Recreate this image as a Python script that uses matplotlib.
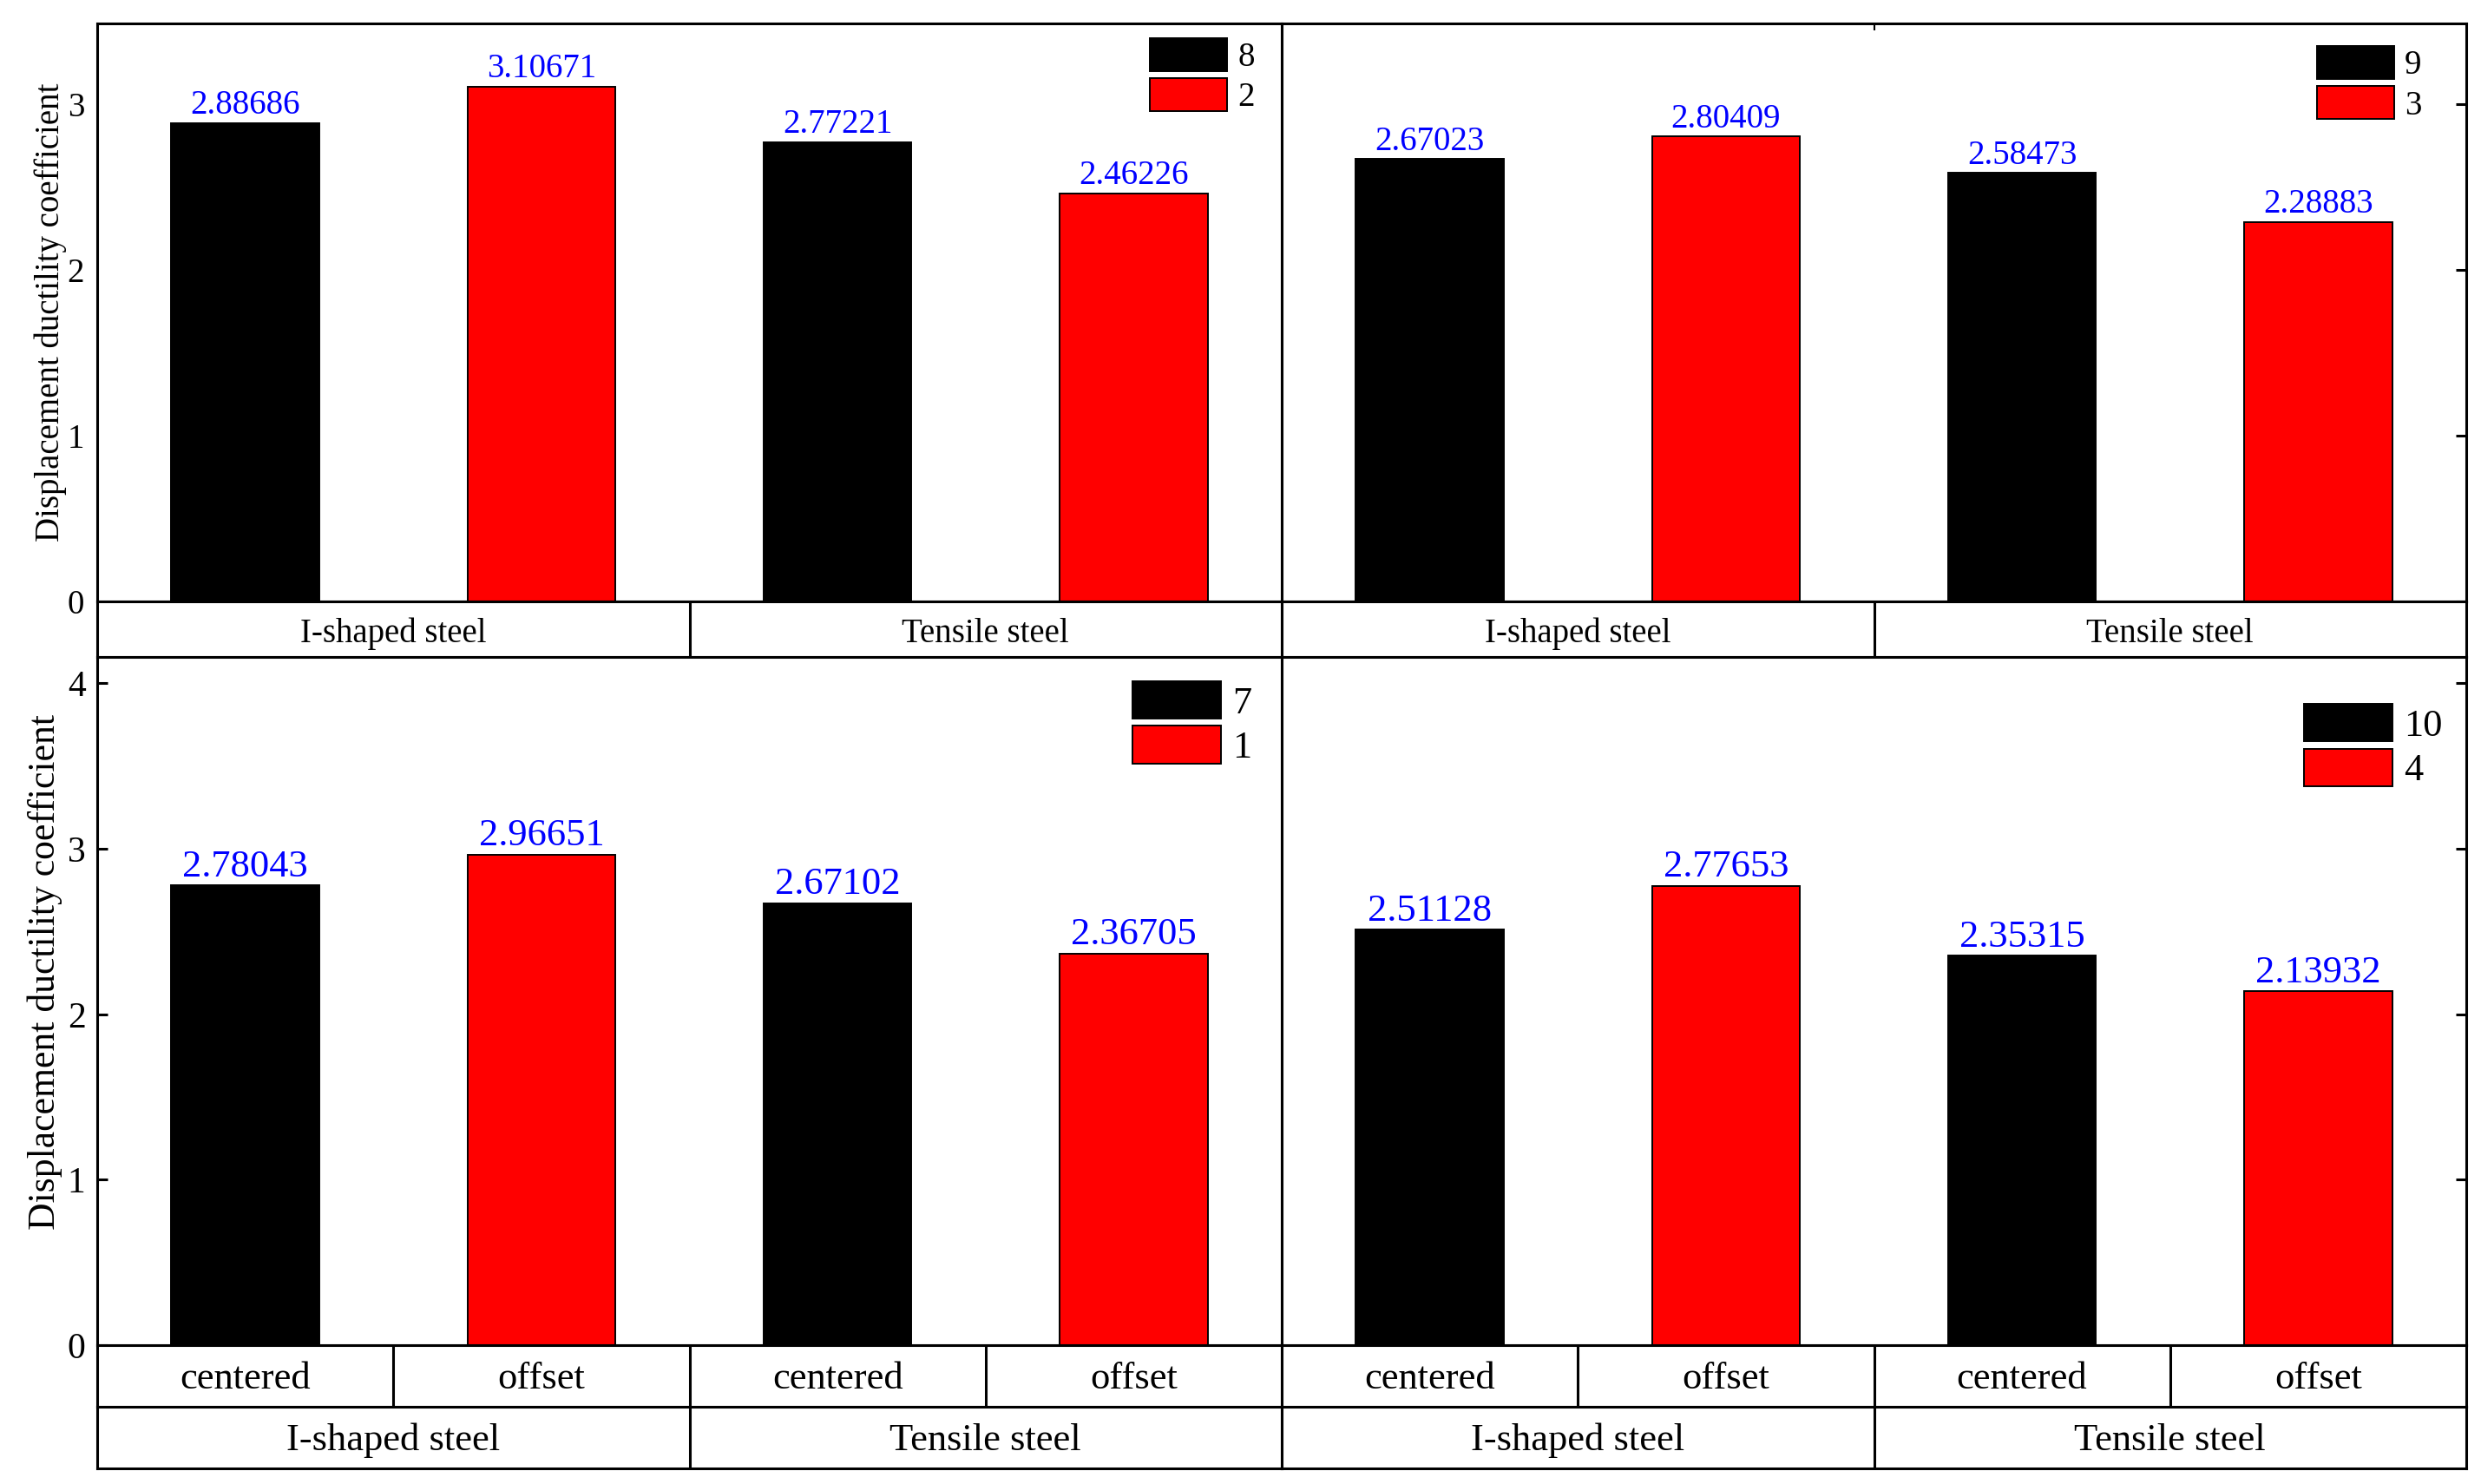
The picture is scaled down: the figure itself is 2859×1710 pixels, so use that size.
import numpy as np
import matplotlib
matplotlib.use("Agg")
import matplotlib.pyplot as plt

plt.rcParams['font.family'] = ['Liberation Serif', 'DejaVu Serif']

# Data
groups = ["I-shaped steel", "Tensile steel"]
placements = ["centered", "offset"]

# each list: [I-shaped steel, Tensile steel]
tl_centered = [2.88686, 2.77221]
tl_offset = [3.10671, 2.46226]
tl_names = ["8", "2"]

tr_centered = [2.67023, 2.58473]
tr_offset = [2.80409, 2.28883]
tr_names = ["9", "3"]

bl_centered = [2.78043, 2.67102]
bl_offset = [2.96651, 2.36705]
bl_names = ["7", "1"]

br_centered = [2.51128, 2.35315]
br_offset = [2.77653, 2.13932]
br_names = ["10", "4"]

ylabel = "Displacement ductility coefficient"

x_centered = np.array([0, 2])
x_offset = np.array([1, 3])

W, H = 2859, 1710
fig = plt.figure(figsize=(W / 100, H / 100), dpi=100)
LW = 2.2


def px_axes(x0, y0, x1, y1):
    return fig.add_axes([x0 / W, 1 - y1 / H, (x1 - x0) / W, (y1 - y0) / H])


def draw_panel(ax, centered, offset, names, fs, ymax, leg_xy):
    b1 = ax.bar(x_centered, centered, 0.5, color='black', edgecolor='black',
                linewidth=1.4, label=names[0])
    b2 = ax.bar(x_offset, offset, 0.5, color='red', edgecolor='black',
                linewidth=1.4, label=names[1])
    for b, v in ((b1, centered), (b2, offset)):
        ax.bar_label(b, labels=[f"{x:.5f}" for x in v], color='blue',
                     fontsize=fs, padding=1)
    ax.set_xlim(-0.5, 3.5)
    ax.set_ylim(0, ymax)
    ax.set_xticks([])
    for s in ax.spines.values():
        s.set_linewidth(LW)
    ax.legend(loc='upper right', bbox_to_anchor=leg_xy, frameon=False,
              fontsize=fs, handlelength=2.29, handleheight=1.13,
              labelspacing=0.13, handletextpad=0.3, borderpad=0,
              borderaxespad=0)


def band(ax, labels, xs, bounds, fs, ty):
    ax.set_xlim(-0.5, 3.5)
    ax.set_ylim(0, 1)
    ax.set_xticks([])
    ax.set_yticks([])
    for s in ax.spines.values():
        s.set_linewidth(LW)
    for b in bounds:
        ax.axvline(b, color='black', lw=LW)
    for x, t in zip(xs, labels):
        ax.text(x, ty, t, ha='center', va='center', fontsize=fs)


# top row
ax_tl = px_axes(112, 27, 1477, 693)
ax_tr = px_axes(1477, 27, 2842, 693)
draw_panel(ax_tl, tl_centered, tl_offset, tl_names, 28, 3.487, (0.977, 0.975))
draw_panel(ax_tr, tr_centered, tr_offset, tr_names, 28, 3.487, (0.962, 0.961))

ax_tl.set_yticks([0, 1, 2, 3])
ax_tl.tick_params(axis='y', length=0, pad=10.8, labelsize=28)
ax_tl.set_ylabel(ylabel, fontsize=28)
ax_tl.yaxis.set_label_coords((77 - 112) / 1365, 0.5)

ax_tr.set_yticks([0, 1, 2, 3])
ax_tr.yaxis.tick_right()
ax_tr.tick_params(axis='y', direction='in', length=8.6, width=LW, labelright=False)
ax_tr.set_xticks([1.5])
ax_tr.tick_params(axis='x', top=True, bottom=False, direction='in', length=6,
                  width=1.5, labeltop=False, labelbottom=False)

for x0, x1 in ((112, 1477), (1477, 2842)):
    band(px_axes(x0, 693, x1, 757), groups, [0.5, 2.5], [1.5], 28, 0.42)

# bottom row
ax_bl = px_axes(112, 757, 1477, 1550)
ax_br = px_axes(1477, 757, 2842, 1550)
draw_panel(ax_bl, bl_centered, bl_offset, bl_names, 32, 4.16, (0.9745, 0.965))
draw_panel(ax_br, br_centered, br_offset, br_names, 32, 4.16, (0.980, 0.932))

ax_bl.set_yticks([0, 1, 2, 3, 4])
ax_bl.tick_params(axis='y', direction='in', length=8.6, width=LW, pad=9.7,
                  labelsize=30)
ax_bl.set_ylabel(ylabel, fontsize=31.5)
ax_bl.yaxis.set_label_coords((72 - 112) / 1365, 0.542)

ax_br.set_yticks([0, 1, 2, 3, 4])
ax_br.yaxis.tick_right()
ax_br.tick_params(axis='y', direction='in', length=8.6, width=LW, labelright=False)

for x0, x1 in ((112, 1477), (1477, 2842)):
    band(px_axes(x0, 1550, x1, 1621), placements * 2, [0, 1, 2, 3],
         [0.5, 1.5, 2.5], 32, 0.45)
    band(px_axes(x0, 1621, x1, 1692), groups, [0.5, 2.5], [1.5], 32, 0.45)

fig.savefig("out.png", dpi=100)
